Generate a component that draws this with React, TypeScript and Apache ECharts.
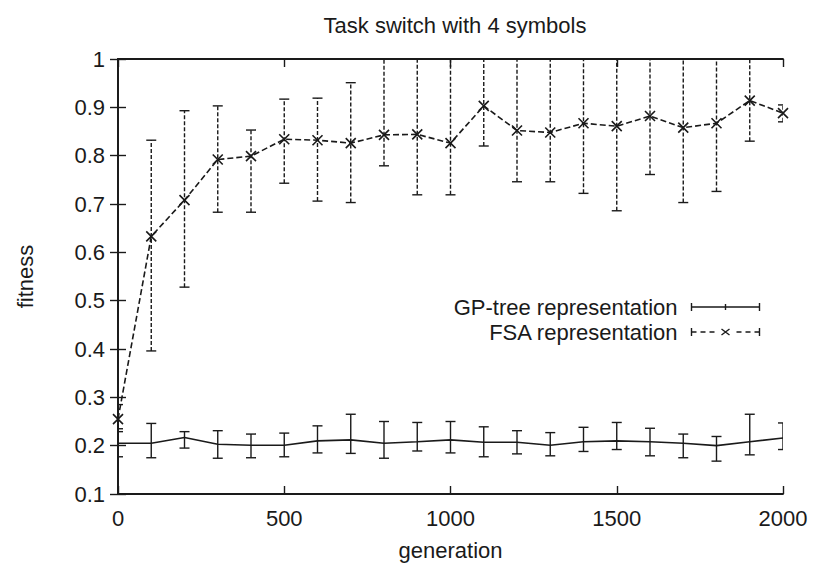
import React, { useEffect, useRef } from "react";
import * as echarts from "echarts";

const generations = [0, 100, 200, 300, 400, 500, 600, 700, 800, 900, 1000, 1100, 1200, 1300, 1400, 1500, 1600, 1700, 1800, 1900, 2000];

const gpMean = [0.205, 0.205, 0.217, 0.203, 0.201, 0.201, 0.21, 0.212, 0.205, 0.208, 0.212, 0.207, 0.207, 0.201, 0.208, 0.21, 0.208, 0.205, 0.2, 0.208, 0.216];
const gpLow = [0.177, 0.175, 0.195, 0.174, 0.175, 0.177, 0.185, 0.184, 0.174, 0.189, 0.185, 0.177, 0.183, 0.179, 0.188, 0.192, 0.179, 0.175, 0.168, 0.181, 0.192];
const gpHigh = [0.229, 0.246, 0.229, 0.231, 0.224, 0.226, 0.241, 0.265, 0.25, 0.248, 0.25, 0.239, 0.231, 0.227, 0.238, 0.248, 0.236, 0.224, 0.219, 0.265, 0.247];

const fsaMean = [0.255, 0.633, 0.708, 0.792, 0.799, 0.834, 0.832, 0.826, 0.843, 0.844, 0.826, 0.903, 0.852, 0.848, 0.867, 0.861, 0.882, 0.858, 0.867, 0.914, 0.888];
const fsaLow = [0.235, 0.396, 0.528, 0.683, 0.683, 0.743, 0.706, 0.703, 0.779, 0.719, 0.719, 0.82, 0.746, 0.746, 0.722, 0.686, 0.761, 0.703, 0.726, 0.83, 0.87];
const fsaHigh = [0.285, 0.832, 0.893, 0.903, 0.853, 0.917, 0.919, 0.951, 1.0, 1.0, 1.0, 1.0, 1.0, 1.0, 1.0, 1.0, 1.0, 1.0, 1.0, 1.0, 0.905];

const xTicks = { min: 0, max: 2000, interval: 500 };
const yTicks = { min: 0.1, max: 1, interval: 0.1 };

const GP_NAME = "GP-tree representation";
const FSA_NAME = "FSA representation";

const INK = "#1a1a1a";
const FONT = "'Liberation Sans', Arial, sans-serif";
const FS = 22;

function errorRenderer(dashed: boolean) {
  return (_params: any, api: any) => {
    const x = api.value(0);
    const lo = api.coord([x, api.value(1)]);
    const hi = api.coord([x, api.value(2)]);
    const half = 5;
    const bar = { stroke: INK, lineWidth: 1.4, lineDash: dashed ? [4, 2] : undefined };
    const cap = { stroke: INK, lineWidth: 1.4 };
    return {
      type: "group",
      children: [
        { type: "line", shape: { x1: lo[0], y1: lo[1], x2: hi[0], y2: hi[1] }, style: bar },
        { type: "line", shape: { x1: lo[0] - half, y1: lo[1], x2: lo[0] + half, y2: lo[1] }, style: cap },
        { type: "line", shape: { x1: hi[0] - half, y1: hi[1], x2: hi[0] + half, y2: hi[1] }, style: cap },
      ],
    };
  };
}

export default function App() {
  const ref = useRef<HTMLDivElement>(null);
  useEffect(() => {
    document.body.style.margin = "0";
    if (!ref.current) return;
    const chart = echarts.init(ref.current, null, { renderer: "svg" });

    const gpLine = generations.map((g, i) => [g, gpMean[i]]);
    const fsaLine = generations.map((g, i) => [g, fsaMean[i]]);
    const gpErr = generations.map((g, i) => [g, gpLow[i], gpHigh[i]]);
    const fsaErr = generations.map((g, i) => [g, fsaLow[i], fsaHigh[i]]);

    const axisCommon = {
      axisLine: { show: true, lineStyle: { color: INK, width: 1.8 } },
      axisTick: { show: true, inside: true, length: 8, lineStyle: { color: INK, width: 1.4 } },
      splitLine: { show: false },
    };
    const labelStyle = { color: INK, fontSize: FS, fontFamily: FONT };

    chart.setOption({
      animation: false,
      backgroundColor: "#fff",
      title: {
        text: "Task switch with 4 symbols",
        left: 450,
        textAlign: "center",
        top: 9,
        textStyle: { color: INK, fontSize: FS, fontWeight: "normal", fontFamily: FONT },
      },
      grid: { left: 118, right: 31, top: 59, bottom: 74, containLabel: false },
      legend: {
        orient: "vertical",
        right: 47,
        top: 291,
        align: "right",
        itemWidth: 68,
        itemHeight: 8,
        itemGap: 3,
        selectedMode: false,
        textStyle: { color: INK, fontSize: FS, fontFamily: FONT, lineHeight: 20, padding: [0, 9, 0, 0] },
        data: [
          {
            name: GP_NAME,
            icon: "path://M0,0L0,8M0,4L68,4M68,0L68,8M34,1L34,7",
            itemStyle: { color: "none", borderColor: INK, borderWidth: 1.4 },
          },
          {
            name: FSA_NAME,
            icon: "path://M0,0L0,8M0,4L5,4M9,4L14,4M18,4L23,4M30,1L38,7M38,1L30,7M45,4L50,4M54,4L59,4M63,4L68,4M68,0L68,8",
            itemStyle: { color: "none", borderColor: INK, borderWidth: 1.4 },
          },
        ],
      },
      xAxis: [
        {
          type: "value",
          position: "bottom",
          ...xTicks,
          ...axisCommon,
          axisLabel: { ...labelStyle, margin: 13, formatter: (v: number) => String(v) },
          name: "generation",
          nameLocation: "middle",
          nameGap: 45,
          nameTextStyle: { color: INK, fontSize: FS, fontFamily: FONT },
        },
        {
          type: "value",
          position: "top",
          ...xTicks,
          ...axisCommon,
          axisLabel: { show: false },
        },
      ],
      yAxis: [
        {
          type: "value",
          position: "left",
          ...yTicks,
          ...axisCommon,
          axisLabel: {
            ...labelStyle,
            margin: 13,
            formatter: (v: number) => String(Number(v.toFixed(1))),
          },
          name: "fitness",
          nameLocation: "middle",
          nameGap: 82,
          nameTextStyle: { color: INK, fontSize: FS, fontFamily: FONT },
        },
        {
          type: "value",
          position: "right",
          ...yTicks,
          ...axisCommon,
          axisLabel: { show: false },
        },
      ],
      series: [
        {
          name: "GP error",
          type: "custom",
          xAxisIndex: 0,
          yAxisIndex: 0,
          renderItem: errorRenderer(false),
          encode: { x: 0, y: [1, 2] },
          data: gpErr,
          clip: true,
          z: 3,
        },
        {
          name: "FSA error",
          type: "custom",
          xAxisIndex: 0,
          yAxisIndex: 0,
          renderItem: errorRenderer(true),
          encode: { x: 0, y: [1, 2] },
          data: fsaErr,
          clip: true,
          z: 3,
        },
        {
          name: GP_NAME,
          type: "line",
          data: gpLine,
          symbol: "none",
          lineStyle: { color: INK, width: 1.6 },
          itemStyle: { color: INK },
          z: 4,
        },
        {
          name: FSA_NAME,
          type: "line",
          data: fsaLine,
          symbol: "path://M0,0L10,10M10,0L0,10",
          symbolSize: 10,
          lineStyle: { color: INK, width: 1.6, type: [6, 3] },
          itemStyle: { color: "none", borderColor: INK, borderWidth: 1.6 },
          z: 4,
        },
      ],
    });
    return () => chart.dispose();
  }, []);
  return <div ref={ref} style={{ width: 814, height: 568 }} />;
}
